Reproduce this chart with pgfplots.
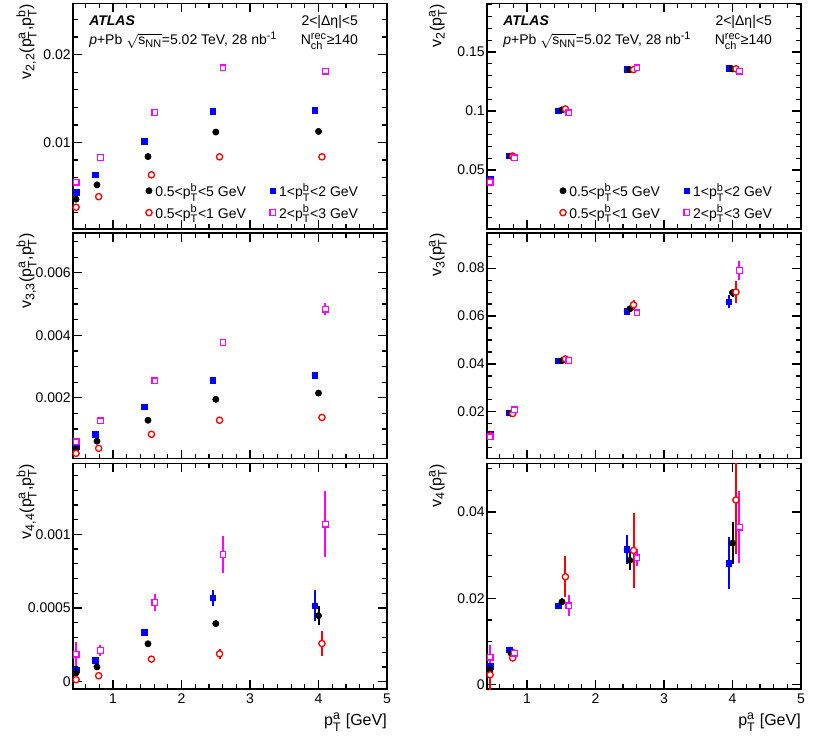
\documentclass[border=0pt]{standalone}
\usepackage{fontspec}
\setmainfont{Liberation Sans}
\usepackage{amsmath}
\DeclareMathSizes{10.5}{10.5}{8.2}{6}
\DeclareMathSizes{12}{12}{9.3}{7}
\usepackage{pgfplots}
\pgfplotsset{compat=1.18}
\definecolor{rblue}{rgb}{0,0,1}
\definecolor{rmag}{rgb}{1,0,1}
\definecolor{rred}{rgb}{1,0,0}
\newcommand{\sub}[1]{$_{\text{#1}}$}
\newcommand{\pt}[1]{p$^{\text{#1}}_{\text{T}}$}
\pgfplotsset{
 panel/.style={
  scale only axis, width=235.5pt, height=169pt, anchor=south west,
  xmin=0.415, xmax=5,
  xtick={1,2,3,4,5},
  minor xtick={0.6,0.8,1.2,1.4,1.6,1.8,2.2,2.4,2.6,2.8,3.2,3.4,3.6,3.8,4.2,4.4,4.6,4.8},
  tick align=inside,
  major tick length=6.4pt, minor tick length=3.4pt,
  axis line style={line width=1.1pt},
  every tick/.append style={line width=0.9pt, black},
  clip marker paths=false,
  scaled y ticks=false,
  xticklabels={,,,,},
  yticklabel style={inner xsep=1.5pt},
  ylabel style={at={(axis description cs:-0.115,1)}, anchor=south east, inner sep=0pt, font=\fontsize{12}{14.4}\selectfont},
  xlabel style={at={(axis description cs:1,0)}, anchor=north east, yshift=-18pt, inner sep=0pt, font=\fontsize{12}{14.4}\selectfont},
 },
 rpanel/.style={panel, ylabel style={at={(axis description cs:-0.127,1)}}},
 leg/.style={legend style={at={(axis description cs:0.2127,0.017)}, anchor=south west, draw=none, fill=none,
   legend columns=2, /tikz/every even column/.append style={column sep=15pt}, row sep=2pt,
   nodes={inner sep=1.5pt}}, legend cell align=left,
   legend image code/.code={\path (0pt,0pt) (6.5pt,0pt); \draw[##1] plot coordinates {(3.5pt,0pt)};}},
 mBk/.style={only marks, black, mark=*, mark size=2.35pt, mark options={fill=black, draw=black, line width=0.4pt}},
 mBl/.style={only marks, rblue, mark=square*, mark size=2.15pt, mark options={fill=rblue, draw=rblue, line width=0.4pt}},
 mRd/.style={only marks, rred, mark=*, mark size=2.35pt, mark options={fill=white, draw=rred, line width=1pt}},
 mMg/.style={only marks, rmag, mark=square*, mark size=2.1pt, mark options={fill=white, draw=rmag, line width=1pt}},
 cBk/.style={black}, cBl/.style={rblue}, cRd/.style={rred}, cMg/.style={rmag},
}
% error bars first (no marks), then the marks on top
\newcommand{\serie}[2]{%
 \addplot[only marks, mark=none, c#1, forget plot,
   error bars/y dir=both, error bars/y explicit, error bars/error mark=none,
   error bars/error bar style={line width=1.5pt, c#1}] coordinates {#2};
 \addplot[m#1, forget plot] coordinates {#2};
}
\newcommand{\toptext}{%
 \node[anchor=base west, inner sep=0pt] at (axis description cs:0.051,0.902) {\textbf{\textit{ATLAS}}};
 \node[anchor=base west, inner sep=0pt] at (axis description cs:0.051,0.818) {\textit{p}+Pb $\sqrt{\text{s}_{\text{NN}}}$=5.02 TeV, 28 nb$^{\text{-1}}$};
 \node[anchor=base east, inner sep=0pt] at (axis description cs:0.908,0.902) {2<|Δη|<5};
 \node[anchor=base east, inner sep=0pt] at (axis description cs:0.908,0.818) {N$^{\text{rec}}_{\text{ch}}$≥140};
}
\newcommand{\legentries}{%
 \addlegendimage{mBk}\addlegendentry{0.5<\pt{b}<5 GeV}
 \addlegendimage{mBl}\addlegendentry{1<\pt{b}<2 GeV}
 \addlegendimage{mRd}\addlegendentry{0.5<\pt{b}<1 GeV}
 \addlegendimage{mMg}\addlegendentry{2<\pt{b}<3 GeV}
}
\begin{document}
\begin{tikzpicture}[font=\fontsize{10.5}{12.6}\selectfont]
\useasboundingbox (0,0) rectangle (622.5pt,558pt);

% ---------- top left: v22
\begin{axis}[panel, leg, at={(54.75pt,386.25pt)},
  ymin=0.00016, ymax=0.0258, ytick={0.01,0.02}, yticklabels={0.01,0.02},
  minor ytick={0.002,0.004,0.006,0.008,0.012,0.014,0.016,0.018,0.022,0.024},
  ylabel={v\sub{2,2}(\pt{a},\pt{b})}]
\legentries
\serie{Bl}{(0.46,0.0043) +- (0,0) (0.74,0.00632) +- (0,0) (1.455,0.01011) +- (0,0) (2.455,0.01353) +- (0,0) (3.945,0.0137) +- (0,0)}
\serie{Bk}{(0.46,0.00355) +- (0,0) (0.765,0.00518) +- (0,0) (1.51,0.0084) +- (0,0) (2.50,0.01119) +- (0,0) (4.00,0.01126) +- (0,0)}
\serie{Rd}{(0.46,0.00263) +- (0,0) (0.79,0.00384) +- (0,0) (1.56,0.00632) +- (0,0) (2.555,0.00837) +- (0,0) (4.05,0.00837) +- (0,0)}
\serie{Mg}{(0.46,0.00548) +- (0,0) (0.815,0.00829) +- (0,0) (1.61,0.01342) +- (0,0) (2.605,0.01852) +- (0,0) (4.10,0.0181) +- (0,0)}
\toptext
\end{axis}

% ---------- middle left: v33
\begin{axis}[panel, at={(54.75pt,214.1pt)},
  ymin=0.000054, ymax=0.00727, ytick={0.002,0.004,0.006}, yticklabels={0.002,0.004,0.006},
  minor ytick={0.0005,0.001,0.0015,0.0025,0.003,0.0035,0.0045,0.005,0.0055,0.0065,0.007},
  ylabel={v\sub{3,3}(\pt{a},\pt{b})}]
\serie{Bl}{(0.46,0.00045) +- (0,0) (0.74,0.00083) +- (0,0) (1.455,0.00171) +- (0,0) (2.455,0.00257) +- (0,0) (3.945,0.00273) +- (0,0.00003)}
\serie{Bk}{(0.46,0.00035) +- (0,0) (0.765,0.00061) +- (0,0) (1.51,0.00128) +- (0,0) (2.50,0.00195) +- (0,0) (4.00,0.00215) +- (0,0.00003)}
\serie{Rd}{(0.46,0.00022) +- (0,0) (0.79,0.00038) +- (0,0) (1.56,0.00083) +- (0,0) (2.555,0.00128) +- (0,0) (4.05,0.00137) +- (0,0.00004)}
\serie{Mg}{(0.46,0.00059) +- (0,0) (0.815,0.00126) +- (0,0) (1.61,0.00254) +- (0,0) (2.605,0.00377) +- (0,0.00005) (4.10,0.00484) +- (0,0.0002)}
\end{axis}

% ---------- bottom left: v44
\begin{axis}[panel, at={(54.75pt,41.25pt)},
  ymin=-0.00005, ymax=0.00148, ytick={0,0.0005,0.001}, yticklabels={0,0.0005,0.001},
  minor ytick={0.0001,0.0002,0.0003,0.0004,0.0006,0.0007,0.0008,0.0009,0.0011,0.0012,0.0013,0.0014},
  xticklabels={1,2,3,4,5},
  ylabel={v\sub{4,4}(\pt{a},\pt{b})}, xlabel={\pt{a} [GeV]}]
\serie{Bl}{(0.46,0.000081) +- (0,0.00002) (0.74,0.000144) +- (0,0) (1.455,0.000333) +- (0,0) (2.455,0.00057) +- (0,0.000053) (3.945,0.000516) +- (0,0.000107)}
\serie{Bk}{(0.46,0.00006) +- (0,0.00002) (0.765,0.0001) +- (0,0) (1.51,0.000257) +- (0,0) (2.50,0.000394) +- (0,0.00002) (4.00,0.000448) +- (0,0.000064)}
\serie{Rd}{(0.46,0.0000135) +- (0,0) (0.79,0.00004) +- (0,0) (1.56,0.000153) +- (0,0) (2.555,0.000189) +- (0,0.000033) (4.05,0.000259) +- (0,0.000087)}
\serie{Mg}{(0.46,0.000187) +- (0,0.00008) (0.815,0.000212) +- (0,0.00004) (1.61,0.000538) +- (0,0.000055) (2.605,0.000863) +- (0,0.000124) (4.10,0.00107) +- (0,0.000225)}
\end{axis}

% ---------- top right: v2
\begin{axis}[rpanel, leg, at={(365.25pt,386.25pt)},
  ymin=0, ymax=0.191, ytick={0.05,0.1,0.15}, yticklabels={0.05,0.1,0.15},
  minor ytick={0.01,0.02,0.03,0.04,0.06,0.07,0.08,0.09,0.11,0.12,0.13,0.14,0.16,0.17,0.18,0.19},
  ylabel={v\sub{2}(\pt{a})}]
\legentries
\serie{Bl}{(0.46,0.0419) +- (0,0) (0.74,0.062) +- (0,0) (1.455,0.1003) +- (0,0) (2.455,0.1351) +- (0,0) (3.945,0.1363) +- (0,0)}
\serie{Bk}{(0.46,0.0405) +- (0,0) (0.765,0.0618) +- (0,0) (1.51,0.101) +- (0,0) (2.50,0.135) +- (0,0) (4.00,0.1357) +- (0,0)}
\serie{Rd}{(0.46,0.0405) +- (0,0) (0.79,0.0618) +- (0,0) (1.56,0.1017) +- (0,0) (2.555,0.1351) +- (0,0) (4.05,0.1357) +- (0,0)}
\serie{Mg}{(0.46,0.0396) +- (0,0) (0.815,0.0603) +- (0,0) (1.61,0.0986) +- (0,0) (2.605,0.1366) +- (0,0) (4.10,0.1338) +- (0,0)}
\toptext
\end{axis}

% ---------- middle right: v3
\begin{axis}[rpanel, at={(365.25pt,214.1pt)},
  ymin=0.0005, ymax=0.0946, ytick={0.02,0.04,0.06,0.08}, yticklabels={0.02,0.04,0.06,0.08},
  minor ytick={0.005,0.01,0.015,0.025,0.03,0.035,0.045,0.05,0.055,0.065,0.07,0.075,0.085,0.09},
  ylabel={v\sub{3}(\pt{a})}]
\serie{Bl}{(0.46,0.0107) +- (0,0) (0.74,0.0196) +- (0,0) (1.455,0.0413) +- (0,0) (2.455,0.062) +- (0,0.0006) (3.945,0.066) +- (0,0.0026)}
\serie{Bk}{(0.46,0.0103) +- (0,0) (0.765,0.0194) +- (0,0) (1.51,0.0414) +- (0,0) (2.50,0.063) +- (0,0.0006) (4.00,0.0698) +- (0,0.0017)}
\serie{Rd}{(0.46,0.0100) +- (0,0) (0.79,0.0193) +- (0,0) (1.56,0.0421) +- (0,0) (2.555,0.0647) +- (0,0.002) (4.05,0.07) +- (0,0.0047)}
\serie{Mg}{(0.46,0.0096) +- (0,0) (0.815,0.0208) +- (0,0) (1.61,0.0414) +- (0,0) (2.605,0.0613) +- (0,0.0006) (4.10,0.079) +- (0,0.0038)}
\end{axis}

% ---------- bottom right: v4
\begin{axis}[rpanel, at={(365.25pt,41.25pt)},
  ymin=-0.001, ymax=0.0512, ytick={0,0.02,0.04}, yticklabels={0,0.02,0.04},
  minor ytick={0.005,0.01,0.015,0.025,0.03,0.035,0.045,0.05},
  xticklabels={1,2,3,4,5},
  ylabel={v\sub{4}(\pt{a})}, xlabel={\pt{a} [GeV]}]
\serie{Bl}{(0.46,0.0042) +- (0,0.0015) (0.74,0.0081) +- (0,0.0005) (1.455,0.0183) +- (0,0.0005) (2.455,0.0313) +- (0,0.0033) (3.945,0.0282) +- (0,0.006)}
\serie{Bk}{(0.46,0.0035) +- (0,0.0012) (0.765,0.0073) +- (0,0.0005) (1.51,0.0192) +- (0,0.0008) (2.50,0.0288) +- (0,0.0023) (4.00,0.0328) +- (0,0.0049)}
\serie{Rd}{(0.46,0.0023) +- (0,0.0035) (0.79,0.0062) +- (0,0.0007) (1.56,0.025) +- (0,0.0047) (2.555,0.0311) +- (0,0.0087) (4.05,0.0428) +- (0,0.0125)}
\serie{Mg}{(0.46,0.0064) +- (0,0.0027) (0.815,0.0073) +- (0,0.001) (1.61,0.0183) +- (0,0.0024) (2.605,0.0294) +- (0,0.002) (4.10,0.0365) +- (0,0.0083)}
\end{axis}
\end{tikzpicture}
\end{document}
